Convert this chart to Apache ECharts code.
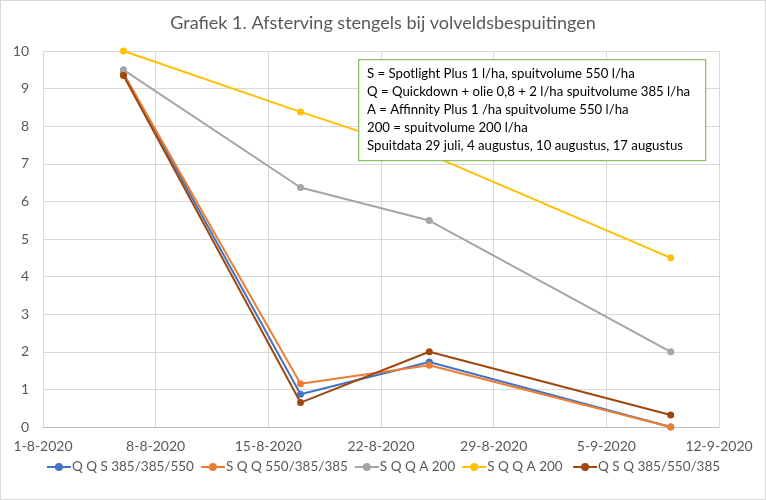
<!DOCTYPE html>
<html>
<head>
<meta charset="utf-8">
<script src="https://cdn.jsdelivr.net/npm/echarts@6/dist/echarts.min.js"></script>
<style>
html,body{margin:0;padding:0;background:#fff;}
#c{width:766px;height:500px;box-sizing:border-box;border:1px solid #d9d9d9;}
</style>
</head>
<body>
<div id="c"></div>
<script>
// Dates of observations
var dates = ["2020-08-06", "2020-08-17", "2020-08-25", "2020-09-09"];
var seriesNames = ["Q Q S 385/385/550", "S Q Q 550/385/385", "S Q Q A 200", "S Q Q A 200 ", "Q S Q 385/550/385"];
var qqs = [9.4, 0.87, 1.73, 0];
var sqq = [9.4, 1.15, 1.64, 0];
var sqqaGray = [9.5, 6.37, 5.49, 2.0];
var sqqaYellow = [10, 8.38, 7.25, 4.5];
var qsq = [9.35, 0.65, 2.0, 0.32];
var yTicks = [0,1,2,3,4,5,6,7,8,9,10];
var noteLines = [
  "S = Spotlight Plus 1 l/ha, spuitvolume 550 l/ha",
  "Q = Quickdown + olie 0,8 + 2 l/ha spuitvolume 385 l/ha",
  "A = Affinnity Plus 1 /ha spuitvolume 550 l/ha",
  "200 = spuitvolume 200 l/ha",
  "Spuitdata 29 juli, 4 augustus, 10 augustus, 17 augustus"
];

var colors = ["#4472C4", "#ED7D31", "#A5A5A5", "#FFC000", "#9E480E"];
var allValues = [qqs, sqq, sqqaGray, sqqaYellow, qsq];
var DAY = 86400000;
var base = Date.UTC(2020, 7, 1);
function dayOffset(s){ var p = s.split("-"); return Math.round((Date.UTC(+p[0], +p[1]-1, +p[2]) - base)/DAY); }
function fmt(v){ var d = new Date(base + v*DAY); return d.getUTCDate() + "-" + (d.getUTCMonth()+1) + "-" + d.getUTCFullYear(); }
var xs = dates.map(dayOffset);
var font = "Lato, 'Liberation Sans', sans-serif";

var chart = echarts.init(document.getElementById("c"), null, {renderer: "canvas"});
chart.setOption({
  animation: false,
  color: colors,
  title: {
    text: "Grafiek 1. Afsterving stengels bij volveldsbespuitingen",
    left: "center", top: 8,
    textStyle: {fontFamily: font, fontSize: 18, fontWeight: "normal", color: "#595959"}
  },
  grid: {left: 42, right: 46, top: 50, bottom: 72, containLabel: false},
  xAxis: {
    type: "value", min: 0, max: 42, interval: 7,
    axisLine: {show: true, lineStyle: {color: "#bfbfbf", width: 1}},
    axisTick: {show: false},
    splitLine: {show: true, lineStyle: {color: "#d9d9d9", width: 1}},
    axisLabel: {formatter: fmt, color: "#595959", fontFamily: font, fontSize: 14, margin: 12}
  },
  yAxis: {
    type: "value", min: 0, max: 10, interval: 1,
    axisLine: {show: false},
    axisTick: {show: false},
    splitLine: {show: true, lineStyle: {color: "#d9d9d9", width: 1}},
    axisLabel: {color: "#595959", fontFamily: font, fontSize: 14, margin: 14,
      formatter: function(v){ return yTicks.indexOf(v) >= 0 ? String(v) : ""; }}
  },
  legend: {
    bottom: 20, left: "center", itemGap: 6, itemWidth: 24, itemHeight: 10,
    textStyle: {color: "#595959", fontFamily: font, fontSize: 13.5, padding: [0, 0, 0, -4]},
    data: seriesNames
  },
  series: allValues.map(function(vals, i){
    return {
      name: seriesNames[i],
      type: "line",
      data: vals.map(function(v, j){ return [xs[j], v]; }),
      symbol: "circle", symbolSize: 7,
      lineStyle: {width: 2, color: colors[i]},
      itemStyle: {color: colors[i]},
      z: 2 + i
    };
  }),
  graphic: [
    {type: "rect", left: 357, top: 58, z: 100, zlevel: 1,
     shape: {width: 347, height: 101},
     style: {fill: "#fff", stroke: "#8DC06A", lineWidth: 1.3}},
    {type: "text", left: 366, top: 64, z: 101, zlevel: 1,
     style: {text: noteLines.join("\n"), fill: "#000", fontFamily: font, fontSize: 13.2, lineHeight: 18}}
  ]
});
</script>
</body>
</html>
